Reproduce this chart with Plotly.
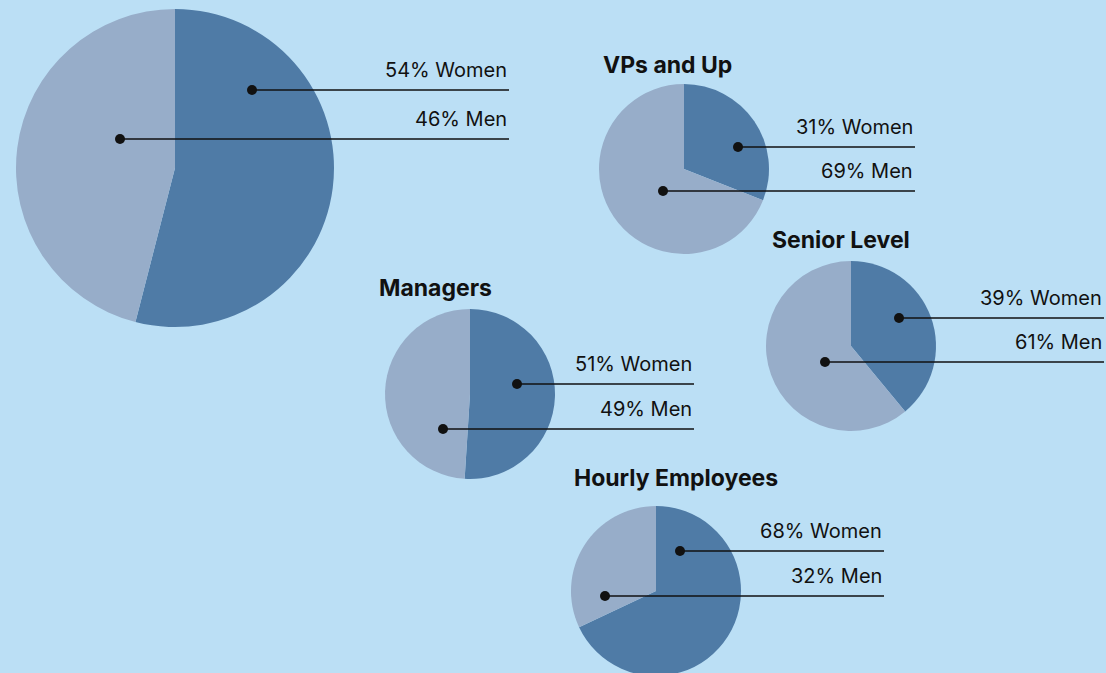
import plotly.graph_objects as go

# ---- data ----
groups = ["All Employees", "VPs and Up", "Senior Level", "Managers", "Hourly Employees"]
titles = ["", "VPs and Up", "Senior Level", "Managers", "Hourly Employees"]
women_pct = [54, 31, 39, 51, 68]
men_pct = [46, 69, 61, 49, 32]
segment_labels = ["Women", "Men"]

# ---- layout (pixel positions, styles) ----
W = 1106
H = 690  # canvas slightly taller than the 673px view; bottom is cropped like the original
BG = "#bbdff5"
C_WOMEN = "#4f7ba6"
C_MEN = "#97adc9"
INK = "#111111"

# center x, center y, radius (px from top-left)
pie_geom = [(175, 168, 159), (684, 169, 85), (851, 346, 85), (470, 394, 85), (656, 591, 85)]
# (women dot x, women line y, men dot x, men line y, line end x)
leader = [(252, 90, 120, 139, 509),
          (738, 147, 663, 191, 915),
          (899, 318, 825, 362, 1104),
          (517, 384, 443, 429, 694),
          (680, 551, 605, 596, 884)]
title_pos = [None, (601, 65), (770, 240), (377, 288), (572, 478)]

fig = go.Figure()

for i, g in enumerate(groups):
    cx, cy, r = pie_geom[i]
    x0, x1 = (cx - r) / W, (cx + r) / W
    y0, y1 = 1 - (cy + r) / H, 1 - (cy - r) / H
    y0 = max(0.0, y0)
    y1 = min(1.0, y1)
    fig.add_trace(go.Pie(
        labels=segment_labels,
        values=[women_pct[i], men_pct[i]],
        name=g,
        sort=False,
        direction="clockwise",
        rotation=0,
        textinfo="none",
        hoverinfo="skip",
        marker=dict(colors=[C_WOMEN, C_MEN], line=dict(width=0)),
        domain=dict(x=[x0, x1], y=[y0, y1]),
        showlegend=False,
    ))

# invisible cartesian axes in pixel units for shapes/annotations
fig.add_trace(go.Scatter(x=[0, W], y=[0, H], mode="markers",
                         marker=dict(opacity=0), hoverinfo="skip", showlegend=False))

shapes = []
annotations = []
lab_font = dict(family="Inter, Roboto, sans-serif", size=20, color=INK)
ttl_font = dict(family="Inter, Roboto, sans-serif", size=23, color=INK)
rdot = 5
for i, g in enumerate(groups):
    wx, wy, mx, my, ex = leader[i]
    for (dx, ly, txt) in [(wx, wy, f"{women_pct[i]}% {segment_labels[0]}"),
                          (mx, my, f"{men_pct[i]}% {segment_labels[1]}")]:
        shapes.append(dict(type="line", xref="x", yref="y", x0=dx, x1=ex, y0=ly, y1=ly,
                           line=dict(color=INK, width=1.4), layer="above"))
        shapes.append(dict(type="circle", xref="x", yref="y",
                           x0=dx - rdot, x1=dx + rdot, y0=ly - rdot, y1=ly + rdot,
                           fillcolor=INK, line=dict(width=0), layer="above"))
        annotations.append(dict(x=ex, y=ly - 6, xref="x", yref="y", text=txt,
                                showarrow=False, xanchor="right", yanchor="bottom",
                                font=lab_font))
    if title_pos[i] and titles[i]:
        tx, ty = title_pos[i]
        annotations.append(dict(x=tx, y=ty, xref="x", yref="y", text=f"<b>{titles[i]}</b>",
                                showarrow=False, xanchor="left", yanchor="middle",
                                font=ttl_font))

fig.update_layout(
    width=W, height=H,
    margin=dict(l=0, r=0, t=0, b=0),
    paper_bgcolor=BG, plot_bgcolor=BG,
    xaxis=dict(range=[0, W], visible=False, fixedrange=True),
    yaxis=dict(range=[H, 0], visible=False, fixedrange=True),
    shapes=shapes,
    annotations=annotations,
    showlegend=False,
)

fig.write_html("out.html", config={"displayModeBar": False},
               post_script="document.body.style.margin='0';document.body.style.overflow='hidden';")
